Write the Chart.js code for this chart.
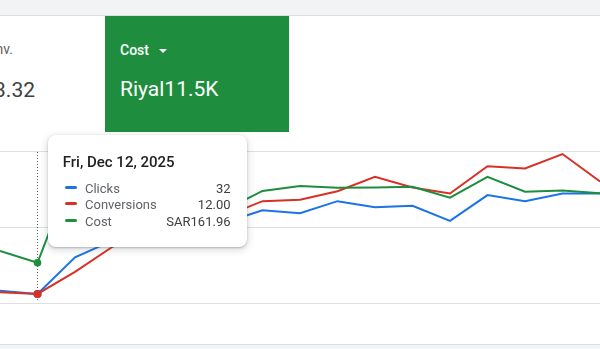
<!DOCTYPE html>
<html>
<head>
<meta charset="utf-8">
<script src="https://cdn.jsdelivr.net/npm/chart.js@4.4.1/dist/chart.umd.min.js"></script>
<style>
  html, body { margin: 0; padding: 0; background: #fff; }
  #page { position: relative; width: 600px; height: 349px; overflow: hidden; font-family: Roboto, Arial, sans-serif; }
  .topband { position: absolute; left: 0; top: 0; width: 600px; height: 15px; background: #f1f3f4; border-bottom: 1px solid #dadce0; }
  .bottomband { position: absolute; left: 0; top: 344px; width: 600px; height: 5px; background: #f1f3f4; border-top: 1px solid #dadce0; }
  .label-left { position: absolute; right: 587px; top: 40.5px; font-size: 14px; line-height: 16px; color: #5f6368; white-space: nowrap; }
  .value-left { position: absolute; right: 565px; top: 77.8px; font-size: 21px; line-height: 24px; color: #3c4043; white-space: nowrap; }
  .card { position: absolute; left: 105px; top: 16px; width: 184px; height: 116px; background: #1e8e3e; color: #fff; }
  .card-label { position: absolute; left: 15px; top: 25.5px; font-size: 14px; line-height: 16px; font-weight: 500; }
  .caret { position: absolute; left: 54px; top: 32.5px; width: 0; height: 0; border-left: 4px solid transparent; border-right: 4px solid transparent; border-top: 4.5px solid #fff; }
  .card-value { position: absolute; left: 15px; top: 61.3px; font-size: 21px; line-height: 24px; white-space: nowrap; }
  .chart-wrap { position: absolute; left: 0; top: 140px; width: 600px; height: 176px; }
  .tip { position: absolute; left: 48px; top: 135px; width: 199px; height: 112px; background: #fff; border-radius: 8px;
         box-shadow: 0 1px 2px rgba(60,64,67,.3), 0 2px 6px 2px rgba(60,64,67,.15); }
  .tip-title { position: absolute; left: 14.7px; top: 17px; font-size: 15px; line-height: 20px; font-weight: 500; color: #202124; white-space: nowrap; }
  .tip-row { position: absolute; left: 0; width: 199px; height: 16.7px; font-size: 13px; line-height: 16.7px; }
  .tip-swatch { position: absolute; left: 17px; top: 5px; width: 12px; height: 3px; border-radius: 2px; }
  .tip-name { position: absolute; left: 37px; top: 0; color: #5f6368; }
  .tip-val { position: absolute; right: 16.5px; top: 0; color: #3c4043; }
</style>
</head>
<body>
<div id="page">
  <div class="topband"></div>
  <div class="label-left">Cost / conv.</div>
  <div class="value-left">Riyal3.32</div>
  <div class="card">
    <div class="card-label">Cost</div>
    <span class="caret"></span>
    <div class="card-value">Riyal11.5K</div>
  </div>
  <div class="chart-wrap"><canvas id="chart"></canvas></div>
  <div class="bottomband"></div>
  <div class="tip" id="tip"></div>
</div>
<script>
// daily points, Dec 11 - Dec 27, 2025
const days = [
  'Thu, Dec 11, 2025', 'Fri, Dec 12, 2025', 'Sat, Dec 13, 2025', 'Sun, Dec 14, 2025',
  'Mon, Dec 15, 2025', 'Tue, Dec 16, 2025', 'Wed, Dec 17, 2025', 'Thu, Dec 18, 2025',
  'Fri, Dec 19, 2025', 'Sat, Dec 20, 2025', 'Sun, Dec 21, 2025', 'Mon, Dec 22, 2025',
  'Tue, Dec 23, 2025', 'Wed, Dec 24, 2025', 'Thu, Dec 25, 2025', 'Fri, Dec 26, 2025',
  'Sat, Dec 27, 2025'
];
const clicks = [34, 32, 56, 67, 73, 77, 79, 87, 85, 93, 89, 90, 80, 97, 93, 98, 98];
const conversions = [12.2, 12.0, 14.9, 18.2, 20.7, 21.7, 22.2, 24.2, 24.4, 25.5, 27.4, 26.0, 25.2, 28.8, 28.5, 30.4, 26.8];
const cost = [193, 161.96, 419, 353, 327, 314, 301, 351, 364, 359, 360, 362, 333, 388, 349, 352, 345];

const activeIndex = 1;

const BLUE = '#1a73e8';
const RED = '#d93025';
const GREEN = '#1e8e3e';

// only the hovered day gets a marker
function markers(r) {
  return days.map((d, i) => i === activeIndex ? r : 0);
}

// tooltip box
const rows = [
  ['Clicks', BLUE, String(clicks[activeIndex])],
  ['Conversions', RED, conversions[activeIndex].toFixed(2)],
  ['Cost', GREEN, 'SAR' + cost[activeIndex].toFixed(2)]
];
const tip = document.getElementById('tip');
let html = '<div class="tip-title">' + days[activeIndex] + '</div>';
rows.forEach((r, i) => {
  html += '<div class="tip-row" style="top:' + (45.5 + i * 16.7) + 'px">' +
    '<span class="tip-swatch" style="background:' + r[1] + '"></span>' +
    '<span class="tip-name">' + r[0] + '</span>' +
    '<span class="tip-val">' + r[2] + '</span></div>';
});
tip.innerHTML = html;

// dotted hover line
const hoverLine = {
  id: 'hoverLine',
  beforeDatasetsDraw(chart) {
    const x = Math.floor(chart.scales.x.getPixelForValue(activeIndex)) + 0.5;
    const ctx = chart.ctx;
    ctx.save();
    ctx.strokeStyle = '#5f6368';
    ctx.lineWidth = 1;
    ctx.setLineDash([1, 2]);
    ctx.beginPath();
    ctx.moveTo(x, chart.chartArea.top + 1);
    ctx.lineTo(x, chart.chartArea.bottom - 2);
    ctx.stroke();
    ctx.restore();
  }
};

new Chart(document.getElementById('chart'), {
  type: 'line',
  data: {
    labels: days,
    datasets: [
      {
        label: 'Clicks',
        data: clicks,
        yAxisID: 'yc',
        borderColor: BLUE,
        backgroundColor: BLUE,
        borderWidth: 2,
        pointRadius: markers(4),
        pointBorderWidth: 0,
        tension: 0,
        order: 3
      },
      {
        label: 'Conversions',
        data: conversions,
        yAxisID: 'yv',
        borderColor: RED,
        backgroundColor: RED,
        borderWidth: 2,
        pointRadius: markers(4),
        pointBorderWidth: 0,
        tension: 0,
        order: 2
      },
      {
        label: 'Cost',
        data: cost,
        yAxisID: 'ys',
        borderColor: GREEN,
        backgroundColor: GREEN,
        borderWidth: 2,
        pointRadius: markers(3.8),
        pointBorderWidth: 0,
        tension: 0,
        order: 1
      }
    ]
  },
  options: {
    responsive: true,
    maintainAspectRatio: false,
    animation: false,
    events: [],
    layout: { padding: { top: 11, bottom: 13, left: 0, right: 0 } },
    plugins: {
      legend: { display: false },
      tooltip: { enabled: false }
    },
    scales: {
      x: { display: false, offset: false },
      g: {
        position: 'left',
        min: 0,
        max: 2,
        ticks: { display: false, stepSize: 1 },
        grid: { color: '#e0e0e0', drawTicks: false },
        border: { display: false },
        afterFit: function(s) { s.width = 0; }
      },
      yc: { display: false, min: 26, max: 126 },
      yv: { display: false, min: 10.8, max: 30.8 },
      ys: { display: false, min: 56, max: 456 }
    }
  },
  plugins: [hoverLine]
});
</script>
</body>
</html>
